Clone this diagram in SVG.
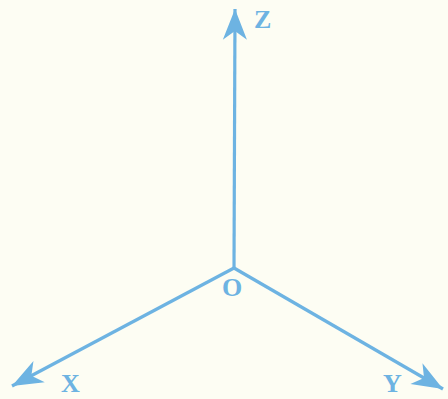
<svg xmlns="http://www.w3.org/2000/svg" width="448" height="399" viewBox="0 0 448 399">
<style>
.ax{stroke:#6db3e2;stroke-width:3.2;fill:none}
.lb{font-family:"Liberation Serif","Times New Roman",serif;font-weight:bold;font-size:26px;fill:#6db3e2}
</style>
<defs>
<marker id="ah" markerUnits="userSpaceOnUse" markerWidth="34" markerHeight="34" viewBox="-29 -13 31 26" refX="0" refY="0" orient="auto">
<path d="M0,0 L-28,-11 L-20,0 L-28,11 Z" fill="#6db3e2"/>
</marker>
</defs>
<rect width="448" height="399" fill="#fdfdf3"/>
<g id="connectors">
<line class="ax" x1="234" y1="268" x2="235" y2="9" marker-end="url(#ah)"/>
<line class="ax" x1="234" y1="268" x2="12" y2="386" marker-end="url(#ah)"/>
<line class="ax" x1="234" y1="268" x2="443" y2="389" marker-end="url(#ah)"/>
</g>
<g id="Z"><text class="lb" x="254" y="28">Z</text></g>
<g id="O"><text class="lb" x="222" y="296">O</text></g>
<g id="X"><text class="lb" x="61" y="392">X</text></g>
<g id="Y"><text class="lb" x="383" y="392">Y</text></g>
</svg>
